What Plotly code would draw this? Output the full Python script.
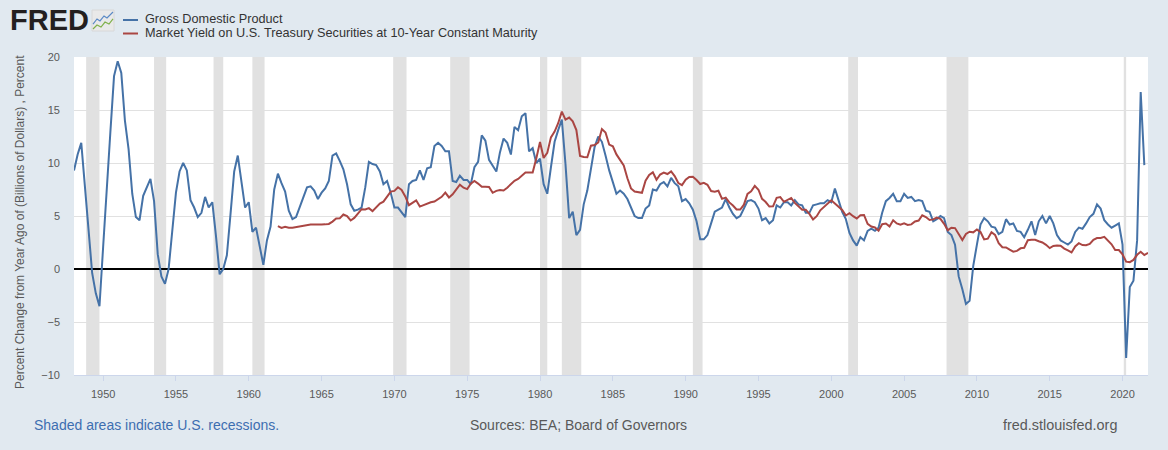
import pandas as pd
import plotly.graph_objects as go

# ---- Data (quarterly) ----
gdp_start = "1948-01-01"
gdp_pct = [
    9.3, 10.8, 11.9, 7.9,     # 1948
    3.5, -0.4, -2.3, -3.5,    # 1949
    2.1, 7.0, 12.9, 18.2,     # 1950
    19.6, 18.5, 14.0, 11.3,   # 1951
    7.1, 4.9, 4.6, 6.9,       # 1952
    7.8, 8.5, 6.4, 1.4,       # 1953
    -0.7, -1.4, 0.0, 3.6,     # 1954
    7.2, 9.2, 10.0, 9.3,      # 1955
    6.5, 5.8, 4.9, 5.3,       # 1956
    6.8, 5.8, 6.3, 3.1,       # 1957
    -0.5, 0.0, 1.3, 5.2,      # 1958
    9.2, 10.7, 8.1, 5.8,      # 1959
    6.3, 3.5, 3.9, 2.2,       # 1960
    0.4, 2.7, 4.0, 7.5,       # 1961
    9.0, 8.1, 7.3, 5.5,       # 1962
    4.7, 4.9, 5.8, 6.8,       # 1963
    7.7, 7.8, 7.4, 6.6,       # 1964
    7.2, 7.6, 8.3, 10.7,      # 1965
    10.9, 10.2, 9.4, 8.0,     # 1966
    6.1, 5.5, 5.6, 5.8,       # 1967
    7.7, 10.1, 9.9, 9.8,      # 1968
    9.2, 8.0, 8.3, 7.2,       # 1969
    5.8, 5.8, 5.4, 4.9,       # 1970
    8.0, 8.3, 8.4, 9.3,       # 1971
    8.4, 9.5, 9.6, 11.6,      # 1972
    11.9, 11.6, 11.1, 11.1,   # 1973
    8.3, 8.2, 8.8, 8.4,       # 1974
    8.4, 8.0, 9.6, 10.1,      # 1975
    12.6, 12.1, 10.3, 9.8,    # 1976
    9.2, 11.0, 12.3, 11.9,    # 1977
    10.8, 13.4, 13.1, 14.4,   # 1978
    14.7, 11.1, 11.4, 10.0,   # 1979
    10.4, 8.0, 7.1, 9.6,      # 1980
    12.0, 13.1, 14.1, 9.9,    # 1981
    4.8, 5.4, 3.2, 3.7,       # 1982
    6.1, 7.4, 9.6, 11.5,      # 1983
    12.5, 12.0, 10.7, 9.3,    # 1984
    8.2, 7.1, 7.4, 7.1,       # 1985
    6.6, 5.8, 5.0, 4.8,       # 1986
    4.8, 5.7, 6.0, 7.5,       # 1987
    7.4, 8.0, 8.2, 7.8,       # 1988
    8.6, 8.1, 7.8, 6.4,       # 1989
    6.6, 6.2, 5.6, 4.5,       # 1990
    2.8, 2.8, 3.2, 4.3,       # 1991
    5.4, 5.6, 5.8, 6.6,       # 1992
    5.8, 5.2, 4.8, 5.0,       # 1993
    5.7, 6.4, 6.5, 6.3,       # 1994
    5.7, 4.6, 4.8, 4.3,       # 1995
    4.6, 6.0, 5.8, 6.3,       # 1996
    6.3, 6.0, 6.5, 6.1,       # 1997
    6.0, 5.3, 5.3, 6.0,       # 1998
    6.1, 6.2, 6.2, 6.5,       # 1999
    6.3, 7.6, 6.5, 5.4,       # 2000
    4.7, 3.4, 2.7, 2.2,       # 2001
    3.0, 2.7, 3.6, 3.8,       # 2002
    3.6, 3.9, 5.3, 6.4,       # 2003
    6.7, 7.1, 6.4, 6.4,       # 2004
    7.1, 6.7, 6.8, 6.4,       # 2005
    6.5, 6.4, 5.5, 5.4,       # 2006
    4.5, 4.7, 5.0, 4.8,       # 2007
    3.5, 3.2, 2.3, -0.7,      # 2008
    -1.9, -3.3, -3.0, 0.3,    # 2009
    2.3, 4.2, 4.8, 4.5,       # 2010
    4.0, 3.9, 3.3, 3.5,       # 2011
    4.7, 4.2, 4.3, 3.6,       # 2012
    3.5, 3.0, 3.7, 4.5,       # 2013
    3.2, 4.5, 5.0, 4.3,       # 2014
    5.0, 4.3, 3.2, 2.7,       # 2015
    2.5, 2.3, 2.6, 3.5,       # 2016
    3.9, 3.8, 4.3, 4.9,       # 2017
    5.2, 6.1, 5.7, 4.6,       # 2018
    4.2, 3.9, 4.1, 4.3,       # 2019
    2.3, -8.4, -1.7, -1.1,    # 2020
    2.7, 16.7, 9.8,           # 2021
]

gs10_start = "1962-01-01"
gs10 = [
    4.04, 3.87, 3.99, 3.90,   # 1962
    3.89, 3.96, 4.02, 4.10,   # 1963
    4.18, 4.20, 4.19, 4.17,   # 1964
    4.20, 4.21, 4.25, 4.47,   # 1965
    4.77, 4.78, 5.14, 5.00,   # 1966
    4.58, 4.82, 5.25, 5.64,   # 1967
    5.61, 5.74, 5.46, 5.77,   # 1968
    6.17, 6.35, 6.86, 7.30,   # 1969
    7.37, 7.71, 7.46, 6.85,   # 1970
    6.02, 6.25, 6.48, 5.89,   # 1971
    6.03, 6.14, 6.29, 6.37,   # 1972
    6.61, 6.81, 7.21, 6.75,   # 1973
    7.05, 7.54, 7.96, 7.67,   # 1974
    7.54, 8.05, 8.30, 8.06,   # 1975
    7.75, 7.77, 7.73, 7.19,   # 1976
    7.37, 7.46, 7.40, 7.67,   # 1977
    8.01, 8.32, 8.49, 8.82,   # 1978
    9.11, 9.11, 9.10, 10.45,  # 1979
    11.99, 10.48, 10.95, 12.42,  # 1980
    12.96, 13.75, 14.85, 14.09,  # 1981
    14.29, 13.93, 13.11, 10.67,  # 1982
    10.56, 10.54, 11.63, 11.69,  # 1983
    11.94, 13.20, 12.87, 11.74,  # 1984
    11.58, 10.81, 10.34, 9.76,   # 1985
    8.56, 7.60, 7.31, 7.26,   # 1986
    7.19, 8.34, 8.88, 9.12,   # 1987
    8.42, 8.91, 9.10, 8.96,   # 1988
    9.21, 8.77, 8.11, 7.91,   # 1989
    8.42, 8.68, 8.70, 8.40,   # 1990
    8.02, 8.13, 7.94, 7.35,   # 1991
    7.30, 7.38, 6.62, 6.74,   # 1992
    6.28, 5.99, 5.62, 5.61,   # 1993
    6.07, 7.08, 7.33, 7.84,   # 1994
    7.48, 6.62, 6.32, 5.89,   # 1995
    5.91, 6.72, 6.78, 6.34,   # 1996
    6.56, 6.70, 6.24, 5.91,   # 1997
    5.59, 5.60, 5.20, 4.67,   # 1998
    4.98, 5.54, 5.88, 6.14,   # 1999
    6.48, 6.18, 5.89, 5.57,   # 2000
    5.05, 5.27, 4.98, 4.77,   # 2001
    5.08, 5.10, 4.26, 4.01,   # 2002
    3.92, 3.62, 4.23, 4.29,   # 2003
    4.02, 4.60, 4.30, 4.17,   # 2004
    4.30, 4.16, 4.21, 4.49,   # 2005
    4.57, 5.07, 4.90, 4.63,   # 2006
    4.68, 4.85, 4.73, 4.26,   # 2007
    3.66, 3.89, 3.86, 3.25,   # 2008
    2.74, 3.31, 3.52, 3.46,   # 2009
    3.72, 3.49, 2.79, 2.86,   # 2010
    3.46, 3.21, 2.43, 2.05,   # 2011
    2.04, 1.82, 1.64, 1.71,   # 2012
    1.95, 2.00, 2.71, 2.75,   # 2013
    2.76, 2.62, 2.50, 2.28,   # 2014
    1.97, 2.17, 2.22, 2.19,   # 2015
    1.92, 1.75, 1.56, 2.13,   # 2016
    2.44, 2.26, 2.24, 2.37,   # 2017
    2.76, 2.92, 2.93, 3.03,   # 2018
    2.65, 2.33, 1.80, 1.79,   # 2019
    1.38, 0.69, 0.65, 0.86,   # 2020
    1.34, 1.62, 1.32, 1.53,   # 2021
]

recession_starts = ["1948-11-01", "1953-07-01", "1957-08-01", "1960-04-01", "1969-12-01",
                    "1973-11-01", "1980-01-01", "1981-07-01", "1990-07-01", "2001-03-01",
                    "2007-12-01", "2020-02-01"]
recession_ends = ["1949-10-01", "1954-05-01", "1958-04-01", "1961-02-01", "1970-11-01",
                  "1975-03-01", "1980-07-01", "1982-11-01", "1991-03-01", "2001-11-01",
                  "2009-06-01", "2020-04-01"]

series_names = ["Gross Domestic Product",
                "Market Yield on U.S. Treasury Securities at 10-Year Constant Maturity"]
series_colors = ["#4572a7", "#aa4643"]

# ---- Layout geometry ----
W, H = 1168, 450
L, R, T, B = 74, 20, 57, 75
PW, PH = W - L - R, H - T - B


def px(x):
    return (x - L) / PW


def py(y):
    return (H - B - y) / PH


FONT = "Liberation Sans, Arial, sans-serif"
GREY = "#595959"

gdp_dates = pd.date_range(gdp_start, periods=len(gdp_pct), freq="QS")
gs10_dates = pd.date_range(gs10_start, periods=len(gs10), freq="QS")

fig = go.Figure()
fig.add_trace(go.Scatter(x=gdp_dates, y=gdp_pct, mode="lines", name=series_names[0],
                         line=dict(color=series_colors[0], width=2), showlegend=False))
fig.add_trace(go.Scatter(x=gs10_dates, y=gs10, mode="lines", name=series_names[1],
                         line=dict(color=series_colors[1], width=2), showlegend=False))

shapes = []
for s, e in zip(recession_starts, recession_ends):
    shapes.append(dict(type="rect", xref="x", yref="paper", x0=s, x1=e, y0=0, y1=1,
                       fillcolor="#e1e1e1", line=dict(width=0), layer="below"))

# legend lines
for i, yy in enumerate([20, 33.5]):
    shapes.append(dict(type="line", xref="paper", yref="paper", x0=px(123), x1=px(138),
                       y0=py(yy), y1=py(yy), line=dict(color=series_colors[i], width=2)))

# FRED icon
shapes.append(dict(type="rect", xref="paper", yref="paper", x0=px(92), x1=px(114),
                   y0=py(31), y1=py(10), fillcolor="#e9e9e9", line=dict(color="#d8d8d8", width=1)))
icon_blue = [(93, 24), (97, 19), (100, 21), (104, 16), (107, 18), (113, 12)]
icon_green = [(93, 29), (97, 25), (101, 27), (105, 22), (109, 24), (113, 19)]
for pts, col in [(icon_blue, "#5b8ac6"), (icon_green, "#7fb04a")]:
    path = "M " + " L ".join(f"{px(a):.5f},{py(b):.5f}" for a, b in pts)
    shapes.append(dict(type="path", xref="paper", yref="paper", path=path,
                       line=dict(color=col, width=1.2)))

annotations = [
    dict(text="<b>FRED</b>", xref="paper", yref="paper", x=px(8), y=py(20), xanchor="left",
         yanchor="middle", showarrow=False, font=dict(family=FONT, size=29, color="#231f20")),
    dict(text=series_names[0], xref="paper", yref="paper", x=px(143), y=py(19.5),
         xanchor="left", yanchor="middle", showarrow=False,
         font=dict(family=FONT, size=12.7, color="#333333")),
    dict(text=series_names[1], xref="paper", yref="paper", x=px(143), y=py(33),
         xanchor="left", yanchor="middle", showarrow=False,
         font=dict(family=FONT, size=12.7, color="#333333")),
    dict(text="Percent Change from Year Ago of (Billions of Dollars) , Percent",
         xref="paper", yref="paper", x=px(20), y=py(222), textangle=-90,
         xanchor="center", yanchor="middle", showarrow=False,
         font=dict(family=FONT, size=12, color=GREY)),
    dict(text="Shaded areas indicate U.S. recessions.", xref="paper", yref="paper",
         x=px(32), y=py(425), xanchor="left", yanchor="middle", showarrow=False,
         font=dict(family=FONT, size=14, color="#3d6eb0")),
    dict(text="Sources: BEA; Board of Governors", xref="paper", yref="paper",
         x=px(578), y=py(425), xanchor="center", yanchor="middle", showarrow=False,
         font=dict(family=FONT, size=14, color=GREY)),
    dict(text="fred.stlouisfed.org", xref="paper", yref="paper",
         x=px(1119), y=py(425), xanchor="right", yanchor="middle", showarrow=False,
         font=dict(family=FONT, size=14.4, color=GREY)),
]

fig.update_layout(
    width=W, height=H, autosize=False,
    margin=dict(l=L, r=R, t=T, b=B),
    paper_bgcolor="#e1e9f0", plot_bgcolor="#ffffff",
    font=dict(family=FONT, size=11, color=GREY),
    shapes=shapes, annotations=annotations, showlegend=False,
    xaxis=dict(type="date", range=["1948-01-01", "2021-10-01"],
               tick0="1950-01-01", dtick="M60", tickformat="%Y",
               showgrid=False, zeroline=False, showline=True, linecolor="#ccd6eb",
               linewidth=1, ticks="outside", ticklen=5, tickcolor="#ccd6eb",
               ticklabelstandoff=4, tickfont=dict(family=FONT, size=11, color=GREY)),
    yaxis=dict(range=[-10, 20], tick0=-10, dtick=5, showgrid=True, gridcolor="#e1e1e1",
               gridwidth=1, zeroline=True, zerolinecolor="#000000", zerolinewidth=2,
               showline=False, ticks="", ticklabelstandoff=13,
               tickfont=dict(family=FONT, size=11, color=GREY)),
)

fig.write_html("out.html")
